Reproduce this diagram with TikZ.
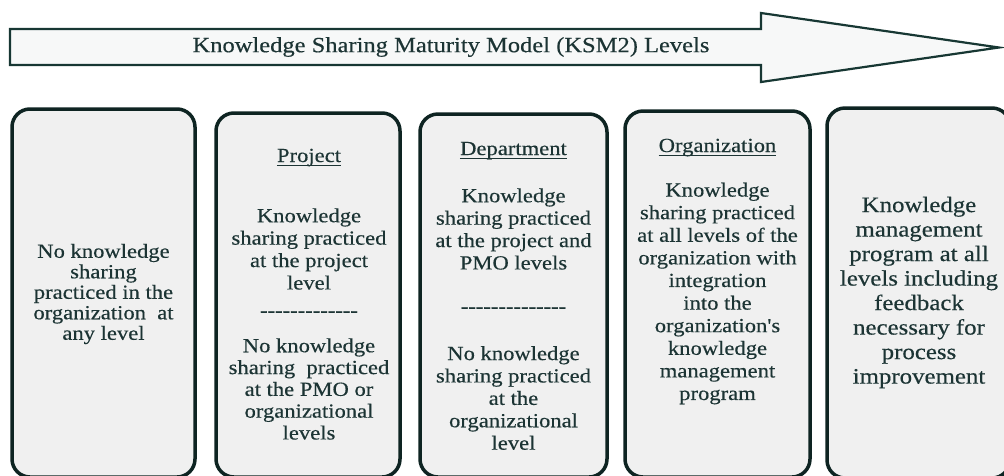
\documentclass[tikz,border=0pt]{standalone}
\usepackage{fontspec}
\newfontfamily\diagfont{Liberation Serif}[FakeStretch=1.13,FakeBold=0.4]
\definecolor{ink}{HTML}{1C3434}
\definecolor{frame}{HTML}{0E2422}
\definecolor{boxfill}{HTML}{F0F0F0}
\definecolor{arrowfill}{HTML}{F7F8F8}
\definecolor{arrowline}{HTML}{173733}
% a row of separate hyphens (no dash ligatures)
\newcommand\hyphenrow[1]{\foreach \k in {1,...,#1}{\mbox{-}}}
\begin{document}
\begin{tikzpicture}[x=1pt,y=-1pt,
  levelbox/.style={draw=frame, line width=3.5pt, fill=boxfill, rounded corners=18pt,
    inner sep=0pt, outer sep=0pt},
  txt/.style={font=\diagfont\fontsize{20}{22.4}\selectfont, text=ink, align=center, inner sep=0pt},
  head/.style={txt, anchor=base},
  uline/.style={draw=ink, line width=1.2pt},
]
\useasboundingbox (0,0) rectangle (1004,475);

% level arrow
\draw[draw=arrowline, fill=arrowfill, line width=2.2pt, line join=miter, miter limit=20]
  (10,29) -- (761,29) -- (761,13) -- (999,47.5) -- (761,82) -- (761,65) -- (10,65) -- cycle;
\node (title) [txt, font=\diagfont\fontsize{21.7}{24}\selectfont] at (451,47)
  {Knowledge Sharing Maturity Model (KSM2) Levels};

% the five level boxes
\node (b1) [levelbox, minimum width=183pt, minimum height=368pt] at (103.5,293) {};
\node (b2) [levelbox, minimum width=184pt, minimum height=364pt] at (308,295) {};
\node (b3) [levelbox, minimum width=187pt, minimum height=363pt] at (513.5,295.5) {};
\node (b4) [levelbox, minimum width=185pt, minimum height=366pt] at (717.5,294) {};
\node (b5) [levelbox, minimum width=183pt, minimum height=370pt] at (918.5,293) {};

% level 1
\node (t1) [txt, font=\diagfont\fontsize{20}{20.5}\selectfont] at (103.5,294)
  {No knowledge\\sharing\\practiced in the\\organization~~at\\any level};

% level 2: project
\node (h2) [head] at (309,162) {Project};
\draw[uline] ([yshift=-3.5pt]h2.base west) -- ([yshift=-3.5pt]h2.base east);
\node (t2a) [txt] at (309,249) {Knowledge\\sharing practiced\\at the project\\level};
\node (d2) [txt] at (309,314) {\hyphenrow{13}};
\node (t2b) [txt, font=\diagfont\fontsize{20}{21.8}\selectfont] at (309,389)
  {No knowledge\\sharing~ practiced\\at the PMO or\\organizational\\levels};

% level 3: department
\node (h3) [head] at (513.5,155) {Department};
\draw[uline] ([yshift=-3.5pt]h3.base west) -- ([yshift=-3.5pt]h3.base east);
\node (t3a) [txt] at (513.5,229) {Knowledge\\sharing practiced\\at the project and\\PMO levels};
\node (d3) [txt] at (513.5,310) {\hyphenrow{14}};
\node (t3b) [txt] at (513.5,398)
  {No knowledge\\sharing practiced\\at the\\organizational\\level};

% level 4: organization
\node (h4) [head] at (717.5,152) {Organization};
\draw[uline] ([yshift=-3.5pt]h4.base west) -- ([yshift=-3.5pt]h4.base east);
\node (t4) [txt, font=\diagfont\fontsize{20}{22.6}\selectfont] at (717.5,293.5)
  {Knowledge\\sharing practiced\\at all levels of the\\organization with\\integration\\into the\\organization's\\knowledge\\management\\program};

% level 5
\node (t5) [txt, font=\diagfont\fontsize{22}{24.5}\selectfont] at (919,292.5)
  {Knowledge\\management\\program at all\\levels including\\feedback\\necessary for\\process\\improvement};
\end{tikzpicture}
\end{document}
